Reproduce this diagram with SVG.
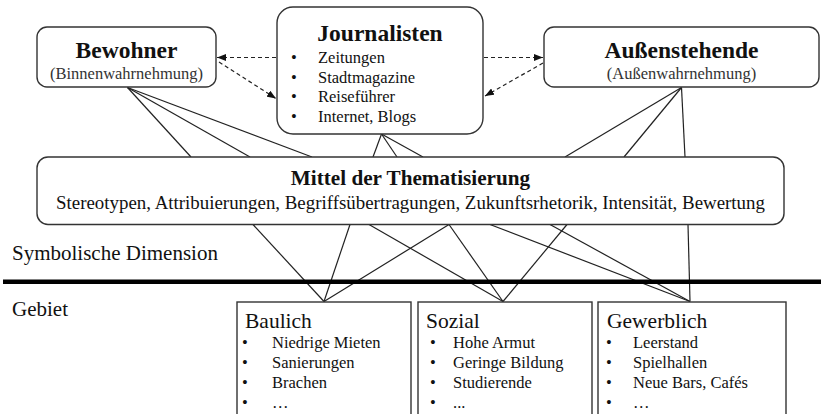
<svg xmlns="http://www.w3.org/2000/svg" width="823" height="414" viewBox="0 0 823 414" font-family="'Liberation Serif', 'Times New Roman', Times, serif">
  <style>
    text { font-family: "Liberation Serif", "Times New Roman", Times, serif; fill: #111; }
    .box { fill: #fff; stroke: #333; stroke-width: 1.4; }
    .title { font-weight: bold; font-size: 23.5px; text-anchor: middle; }
    .sub { font-size: 16.5px; text-anchor: middle; fill: #333; }
    .item { font-size: 16.5px; }
    .head { font-size: 21.5px; }
    .label { font-size: 21px; }
    .link { stroke: #222; stroke-width: 1.2; fill: none; }
    .dash { stroke: #222; stroke-width: 1.2; fill: none; stroke-dasharray: 4 3; marker-end: url(#arrow); }
  </style>
  <defs>
    <marker id="arrow" viewBox="0 0 9 7" refX="9" refY="3.5" markerWidth="9" markerHeight="7" markerUnits="userSpaceOnUse" orient="auto">
      <path d="M0,0 L9,3.5 L0,7 z" fill="#111"/>
    </marker>
  </defs>

  <!-- connectors -->
  <g id="connectors">
    <!-- actors to means -->
    <line class="link" x1="127.5" y1="87.5" x2="191" y2="157"/>
    <line class="link" x1="127.5" y1="87.5" x2="250" y2="157"/>
    <line class="link" x1="127.5" y1="87.5" x2="312" y2="157"/>
    <line class="link" x1="381.5" y1="134" x2="373" y2="157"/>
    <line class="link" x1="381.5" y1="134" x2="397" y2="157"/>
    <line class="link" x1="381.5" y1="134" x2="423" y2="157"/>
    <line class="link" x1="681.5" y1="87.5" x2="565" y2="157"/>
    <line class="link" x1="681.5" y1="87.5" x2="624" y2="157"/>
    <line class="link" x1="681.5" y1="87.5" x2="685" y2="157"/>
    <!-- means to areas -->
    <line class="link" x1="253" y1="224.5" x2="324" y2="301.5"/>
    <line class="link" x1="350" y1="224.5" x2="324" y2="301.5"/>
    <line class="link" x1="449" y1="224.5" x2="324" y2="301.5"/>
    <line class="link" x1="369" y1="224.5" x2="503" y2="301.5"/>
    <line class="link" x1="449" y1="224.5" x2="503" y2="301.5"/>
    <line class="link" x1="567" y1="224.5" x2="503" y2="301.5"/>
    <line class="link" x1="490" y1="224.5" x2="690" y2="301.5"/>
    <line class="link" x1="550" y1="224.5" x2="690" y2="301.5"/>
    <line class="link" x1="688" y1="224.5" x2="690" y2="301.5"/>
    <!-- dashed relations between actors -->
    <line class="dash" x1="276" y1="57.5" x2="217" y2="57.5"/>
    <line class="dash" x1="219" y1="62" x2="276" y2="98.5"/>
    <line class="dash" x1="484" y1="57.5" x2="543" y2="57.5"/>
    <line class="dash" x1="543" y1="63" x2="485" y2="96"/>
  </g>

  <!-- divider between symbolic dimension and area -->
  <line x1="3" y1="281.7" x2="821" y2="281.7" stroke="#000" stroke-width="4.6"/>
  <text class="label" x="12" y="260">Symbolische Dimension</text>
  <text class="label" x="12" y="315.5">Gebiet</text>

  <g id="bewohner">
    <rect class="box" x="37" y="27" width="179" height="60" rx="10"/>
    <text class="title" x="126.5" y="58.3">Bewohner</text>
    <text class="sub" x="126.5" y="79">(Binnenwahrnehmung)</text>
  </g>

  <g id="journalisten">
    <rect class="box" x="277" y="7" width="206" height="127" rx="16"/>
    <text class="title" x="380" y="40.7">Journalisten</text>
    <g class="item">
      <text x="291" y="63.3">•</text><text x="318" y="63.3">Zeitungen</text>
      <text x="291" y="82.7">•</text><text x="318" y="82.7">Stadtmagazine</text>
      <text x="291" y="102.3">•</text><text x="318" y="102.3">Reiseführer</text>
      <text x="291" y="122">•</text><text x="318" y="122">Internet, Blogs</text>
    </g>
  </g>

  <g id="aussenstehende">
    <rect class="box" x="544" y="27" width="275" height="60" rx="10"/>
    <text class="title" x="681.5" y="58.3">Außenstehende</text>
    <text class="sub" x="681.5" y="79.3">(Außenwahrnehmung)</text>
  </g>

  <g id="mittel">
    <rect class="box" x="37" y="157" width="747" height="67.5" rx="11"/>
    <text x="410.5" y="185" font-weight="bold" font-size="21.2" text-anchor="middle">Mittel der Thematisierung</text>
    <text x="410.5" y="209" font-size="18.9" text-anchor="middle">Stereotypen, Attribuierungen, Begriffsübertragungen, Zukunftsrhetorik, Intensität, Bewertung</text>
  </g>

  <g id="baulich">
    <rect class="box" x="237" y="302" width="174" height="120"/>
    <text class="head" x="245" y="328.3">Baulich</text>
    <g class="item">
      <text x="242" y="348">•</text><text x="272" y="348">Niedrige Mieten</text>
      <text x="242" y="368">•</text><text x="272" y="368">Sanierungen</text>
      <text x="242" y="388">•</text><text x="272" y="388">Brachen</text>
      <text x="242" y="408">•</text><text x="272" y="408">…</text>
    </g>
  </g>

  <g id="sozial">
    <rect class="box" x="418" y="302" width="174" height="120"/>
    <text class="head" x="426" y="328.3">Sozial</text>
    <g class="item">
      <text x="430" y="348">•</text><text x="453" y="348">Hohe Armut</text>
      <text x="430" y="368">•</text><text x="453" y="368">Geringe Bildung</text>
      <text x="430" y="388">•</text><text x="453" y="388">Studierende</text>
      <text x="430" y="408">•</text><text x="453" y="408">...</text>
    </g>
  </g>

  <g id="gewerblich">
    <rect class="box" x="598" y="302" width="188" height="120"/>
    <text class="head" x="607" y="328.3">Gewerblich</text>
    <g class="item">
      <text x="606" y="348">•</text><text x="633" y="348">Leerstand</text>
      <text x="606" y="368">•</text><text x="633" y="368">Spielhallen</text>
      <text x="606" y="388">•</text><text x="633" y="388">Neue Bars, Cafés</text>
      <text x="606" y="408">•</text><text x="633" y="408">…</text>
    </g>
  </g>
</svg>
